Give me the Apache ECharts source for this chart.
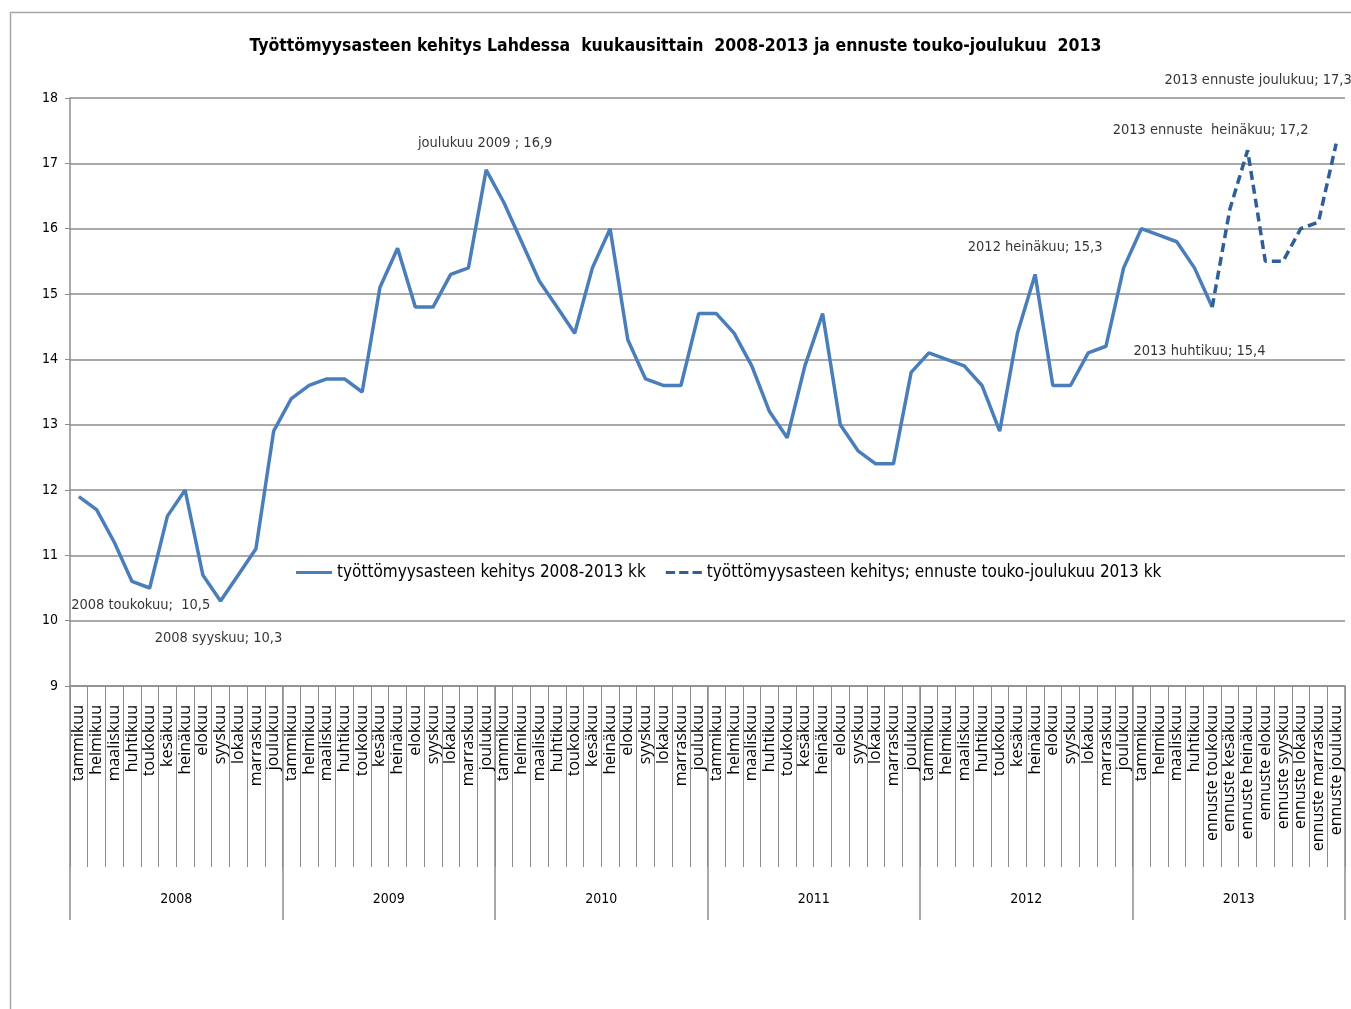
<!DOCTYPE html>
<html>
<head>
<meta charset="utf-8">
<title>Työttömyysasteen kehitys Lahdessa</title>
<script src="https://cdn.jsdelivr.net/npm/echarts@6/dist/echarts.min.js"></script>
<style>
  html, body { margin: 0; padding: 0; background: #fff; }
  #chart { width: 1351px; height: 1009px; }
</style>
</head>
<body>
<div id="chart"></div>
<script>
// kuukaudet 2008-2013, 2013 touko-joulu ennusteena
const years = ['2008', '2009', '2010', '2011', '2012', '2013']
const months = ['tammikuu', 'helmikuu', 'maaliskuu', 'huhtikuu', 'toukokuu', 'kesäkuu',
  'heinäkuu', 'elokuu', 'syyskuu', 'lokakuu', 'marraskuu', 'joulukuu']
const forecastMonths = ['ennuste toukokuu', 'ennuste kesäkuu', 'ennuste heinäkuu', 'ennuste elokuu',
  'ennuste syyskuu', 'ennuste lokakuu', 'ennuste marraskuu', 'ennuste joulukuu']

// toteutunut työttömyysaste, %  (2008 tammikuu ... 2013 ennuste toukokuu)
const actual2008 = [11.9, 11.7, 11.2, 10.6, 10.5, 11.6, 12.0, 10.7, 10.3, 10.7, 11.1, 12.9]
const actual2009 = [13.4, 13.6, 13.7, 13.7, 13.5, 15.1, 15.7, 14.8, 14.8, 15.3, 15.4, 16.9]
const actual2010 = [16.4, 15.8, 15.2, 14.8, 14.4, 15.4, 16.0, 14.3, 13.7, 13.6, 13.6, 14.7]
const actual2011 = [14.7, 14.4, 13.9, 13.2, 12.8, 13.9, 14.7, 13.0, 12.6, 12.4, 12.4, 13.8]
const actual2012 = [14.1, 14.0, 13.9, 13.6, 12.9, 14.4, 15.3, 13.6, 13.6, 14.1, 14.2, 15.4]
const actual2013 = [16.0, 15.9, 15.8, 15.4, 14.8]
// ennuste touko-joulukuu 2013
const forecast2013 = [14.8, 16.3, 17.2, 15.5, 15.5, 16.0, 16.1, 17.3]

// arvojen tekstit pisteiden vieressä
const pointNotes = [
  { idx: 4, text: '2008 toukokuu;  10,5' },
  { idx: 8, text: '2008 syyskuu; 10,3' },
  { idx: 23, text: 'joulukuu 2009 ; 16,9' },
  { idx: 54, text: '2012 heinäkuu; 15,3' },
  { idx: 63, text: '2013 huhtikuu; 15,4' },
  { idx: 66, text: '2013 ennuste  heinäkuu; 17,2' },
  { idx: 71, text: '2013 ennuste joulukuu; 17,3' }
]

const yTicks = [9, 10, 11, 12, 13, 14, 15, 16, 17, 18]

const seriesNames = ['työttömyysasteen kehitys 2008-2013 kk',
  'työttömyysasteen kehitys; ennuste touko-joulukuu 2013 kk']

// kategoriat
const categories = []
years.forEach(y => {
  if (y === '2013') {
    categories.push(...months.slice(0, 4), ...forecastMonths)
  } else {
    categories.push(...months)
  }
})

const actual = [].concat(actual2008, actual2009, actual2010, actual2011, actual2012, actual2013)
const forecastStart = categories.length - forecast2013.length

const solidData = categories.map((c, i) => (i < actual.length ? actual[i] : null))
const dashedData = categories.map((c, i) => (i >= forecastStart ? forecast2013[i - forecastStart] : null))
const allValues = categories.map((c, i) => (i < actual.length ? actual[i] : forecast2013[i - forecastStart]))

// tekstien siirrot pisteestä (px)
const noteOffsets = {
  4: [-9, 17],
  8: [-2, 37],
  23: [-1, -27],
  54: [0, -27],
  63: [5, 83],
  66: [-37, -20],
  71: [-78, -63]
}

const narrow = '"Liberation Sans Narrow", "DejaVu Sans Condensed", "Roboto Condensed", "Open Sans", sans-serif'
const gray = '#8c8c8c'
const blue = '#4a7ebb'
const darkBlue = '#2f5f98'

const chart = echarts.init(document.getElementById('chart'))

chart.setOption({
  backgroundColor: '#fff',
  animation: false,
  graphic: [{
    type: 'rect',
    left: 8,
    top: 10,
    shape: { width: 1400, height: 1100 },
    style: { fill: 'none', stroke: '#a6a6a6', lineWidth: 1.5 },
    silent: true,
    z: -1
  }],
  title: {
    text: 'Työttömyysasteen kehitys Lahdessa  kuukausittain  2008-2013 ja ennuste touko-joulukuu  2013',
    left: 'center',
    top: 32,
    textStyle: {
      fontFamily: narrow,
      fontSize: 17.5,
      fontWeight: 'bold',
      color: '#000'
    }
  },
  legend: {
    data: [
      { name: seriesNames[0], icon: 'path://M0,0H36V3H0Z' },
      { name: seriesNames[1], icon: 'path://M0,0H9V3H0Z M13,0H22V3H13Z M26,0H35V3H26Z' }
    ],
    left: 291,
    top: 559,
    itemWidth: 36,
    itemHeight: 3.5,
    itemGap: 20,
    textStyle: { fontFamily: narrow, fontSize: 17, color: '#000' }
  },
  grid: {
    left: 70,
    right: 6,
    top: 98,
    bottom: 323,
    containLabel: false
  },
  xAxis: [{
    type: 'category',
    data: categories,
    boundaryGap: true,
    axisLine: { lineStyle: { color: gray, width: 1.5 } },
    axisTick: {
      show: true,
      interval: 0,
      length: 181,
      lineStyle: { color: gray, width: 1 }
    },
    axisLabel: {
      interval: 0,
      rotate: 90,
      margin: 19,
      fontFamily: '"Open Sans", sans-serif',
      fontSize: 16,
      color: '#000'
    }
  }, {
    type: 'category',
    data: years,
    position: 'bottom',
    boundaryGap: true,
    axisLine: { show: false },
    axisTick: {
      show: true,
      interval: 0,
      length: 234,
      lineStyle: { color: gray, width: 1.5 }
    },
    axisLabel: {
      interval: 0,
      margin: 206,
      fontFamily: narrow,
      fontSize: 14,
      color: '#000'
    }
  }],
  yAxis: {
    type: 'value',
    min: yTicks[0],
    max: yTicks[yTicks.length - 1],
    interval: 1,
    axisLine: { show: true, lineStyle: { color: gray, width: 1.5 } },
    axisTick: { show: true, length: 5, lineStyle: { color: gray } },
    splitLine: { lineStyle: { color: gray, width: 1.5 } },
    axisLabel: {
      margin: 12,
      fontFamily: narrow,
      fontSize: 14,
      color: '#000'
    }
  },
  series: [{
    name: seriesNames[0],
    type: 'line',
    data: solidData,
    symbol: 'none',
    connectNulls: false,
    lineStyle: { color: blue, width: 3.5 },
    itemStyle: { color: blue }
  }, {
    name: seriesNames[1],
    type: 'line',
    data: dashedData,
    symbol: 'none',
    lineStyle: { color: darkBlue, width: 3.5, type: [9, 5] },
    itemStyle: { color: darkBlue }
  }, {
    name: 'notes',
    type: 'scatter',
    symbolSize: 0,
    silent: true,
    data: pointNotes.map(n => ({
      value: [n.idx, allValues[n.idx]],
      label: {
        show: true,
        position: 'inside',
        offset: noteOffsets[n.idx],
        formatter: n.text,
        fontFamily: narrow,
        fontSize: 14.5,
        color: '#000'
      }
    }))
  }]
})
</script>
</body>
</html>
